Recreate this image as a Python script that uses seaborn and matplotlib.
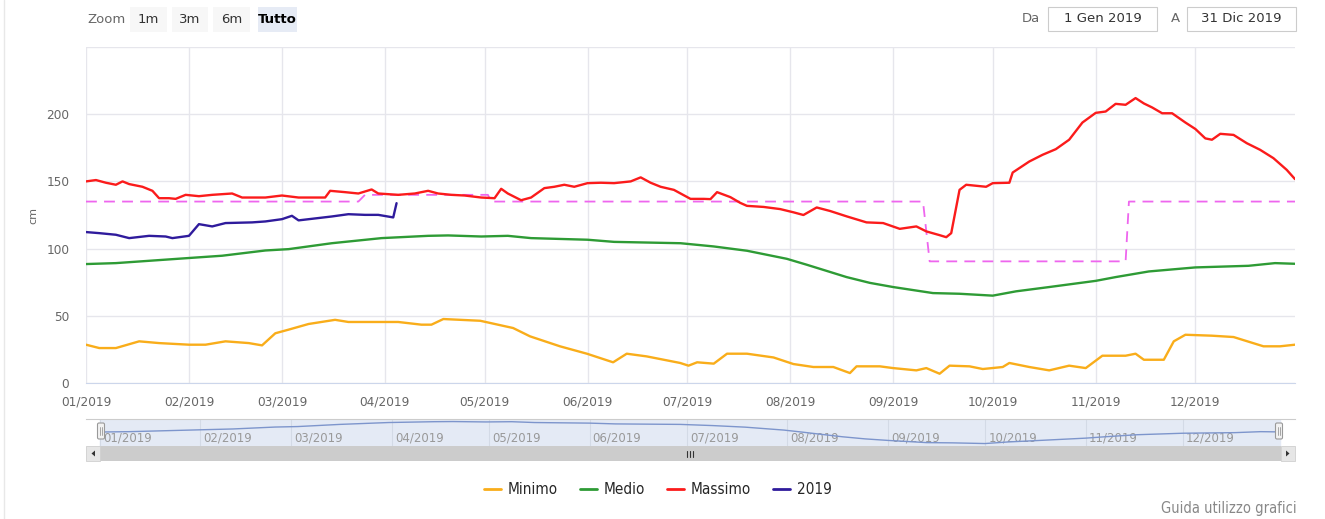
import pandas as pd
import numpy as np
import matplotlib.pyplot as plt
import matplotlib.dates as mdates
from matplotlib.patches import Rectangle, FancyBboxPatch, Polygon
from matplotlib.lines import Line2D
import seaborn as sns

W, H = 1325, 519
inizio = pd.Timestamp('2019-01-01')
fine = pd.Timestamp('2019-12-31')

# valori (giorno dell'anno, cm)
minimo_giorni = [0, 4, 9, 16, 22, 31, 36, 42, 49, 53, 57, 61, 67, 75, 79, 94, 101, 104, 107.6,
                 118.7, 128.6, 133.7, 142.7, 150.8, 158.7, 162.8, 168.8, 178.9, 181.4, 184, 189,
                 193, 199, 207, 213, 219, 225, 230, 232, 239, 243, 250, 253, 257, 260, 266, 270,
                 276, 278, 284, 290, 296, 301, 306, 313, 316, 318.5, 324.5, 327.5, 331, 339,
                 345.5, 354.5, 359.5, 364]
minimo_cm = [28.5, 26, 26, 31, 29.7, 28.5, 28.5, 31, 29.7, 28, 37, 39.7, 43.9, 47, 45.4, 45.4,
             43.4, 43.4, 47.6, 46.3, 40.9, 34.7, 27.3, 21.8, 15.4, 21.8, 19.8, 14.9, 12.9, 15.4,
             14.4, 21.8, 21.8, 19, 14.1, 11.9, 11.9, 7.4, 12.4, 12.4, 11.1, 9.4, 11.1, 6.9, 12.9,
             12.4, 10.4, 11.9, 14.9, 11.9, 9.4, 12.9, 11.1, 20.3, 20.3, 21.8, 17.3, 17.3, 31,
             35.9, 35.2, 34.2, 27.3, 27.3, 28.5]

medio_giorni = [0, 9, 31, 41, 54, 61, 74, 89, 103, 109, 119, 127, 134, 151, 159, 179, 189, 199,
                211, 217, 229, 236, 243, 255, 263, 273, 280, 290, 304, 310, 320, 334, 350, 358, 364]
medio_cm = [88.5, 89.2, 93, 94.7, 98.6, 99.6, 104, 107.8, 109.5, 109.8, 109, 109.5, 107.8, 106.6,
            105, 104, 101.6, 98.4, 92.4, 88, 78.8, 74.5, 71.4, 66.9, 66.4, 65, 68.2, 71.4, 76,
            78.8, 83, 86, 87.2, 89.2, 88.7]

massimo_giorni = [0, 3, 6, 9, 11, 13, 17, 20, 22, 25, 27, 30, 34, 38, 44, 47, 54, 59, 64, 72,
                  73.5, 78, 82, 86, 88, 94, 99, 103, 106, 110, 114, 119, 123, 125, 127, 131, 134,
                  138, 141, 144, 147, 151, 155, 159, 164, 167, 170, 173, 177, 182, 186, 188, 190,
                  194, 197, 199, 204, 209, 213, 216, 220, 224, 229, 235, 240, 245, 250, 253, 257,
                  259, 260.5, 263, 265, 271, 273, 278, 279, 284, 288, 292, 296, 300, 304, 307,
                  310, 313, 316, 318.5, 321, 324, 327, 331, 334, 337, 339, 341.5, 345.5, 349.5,
                  353.5, 357.5, 361.5, 364]
massimo_cm = [150, 151, 149, 147.5, 150, 148, 146, 143, 137.5, 137.5, 137, 140, 139, 140, 141,
              138, 138, 139.5, 138, 138, 143, 142, 141, 144, 141, 140, 141, 143, 141, 140, 139.5,
              138, 137.5, 144.5, 141, 136, 138, 145, 146, 147.5, 146, 148.7, 149, 148.7, 150,
              153, 149, 146, 143.7, 137, 137, 136.8, 142, 138.3, 134, 131.8, 131, 129.4, 127,
              125, 130.6, 128, 124, 119.5, 119, 114.7, 116.5, 112.8, 110, 108.5, 111.5, 143.7,
              147.5, 146, 148.7, 149, 156.6, 164.8, 169.8, 174, 181, 193.8, 201, 202, 207.7, 207,
              212, 208, 205, 200.7, 200.7, 193.8, 189, 182, 181, 185.4, 184.6, 178.4, 173.5,
              167.3, 158.6, 151.7]

anno2019_giorni = [0, 4, 9, 13, 19, 24, 26, 31, 34, 38, 42, 50, 54, 59, 62, 64, 74, 79, 84, 88,
                   92.5, 93.5]
anno2019_cm = [112.3, 111.5, 110.3, 107.8, 109.5, 109, 107.8, 109.5, 118.2, 116.5, 119, 119.5,
               120.2, 121.9, 124.4, 121, 123.9, 125.6, 125.1, 125.1, 123.2, 133.8]

soglia_giorni = [0, 82, 84, 121, 122, 252, 254, 313, 314, 364]
soglia_cm = [135, 135, 140, 140, 135, 135, 90.5, 90.5, 135, 135]

colori = {'Minimo': '#f9ad1a', 'Medio': '#2e9b35', 'Massimo': '#fb1b1b', '2019': '#2f1b9c'}


def serie(giorni, valori):
    return pd.DataFrame({'data': inizio + pd.to_timedelta(giorni, unit='D'), 'cm': valori})


sns.set_style('white')
plt.rcParams['font.family'] = ['DejaVu Sans']

fig = plt.figure(figsize=(W / 100, H / 100), dpi=100)


def box(x0, y0, x1, y1):
    return [x0 / W, 1 - y1 / H, (x1 - x0) / W, (y1 - y0) / H]


# grafico principale
ax = fig.add_axes(box(86, 47, 1295, 383))
sns.lineplot(data=serie(soglia_giorni, soglia_cm), x='data', y='cm', ax=ax, color='#ee66ee',
             lw=1.3, linestyle=(0, (6, 4)), zorder=2)
for nome, g, v in [('Minimo', minimo_giorni, minimo_cm), ('Medio', medio_giorni, medio_cm),
                   ('Massimo', massimo_giorni, massimo_cm), ('2019', anno2019_giorni, anno2019_cm)]:
    sns.lineplot(data=serie(g, v), x='data', y='cm', ax=ax, color=colori[nome], lw=1.7, zorder=3)

ax.set_xlim(inizio, fine)
ax.set_ylim(0, 250)
ax.set_yticks([0, 50, 100, 150, 200, 250])
ax.set_yticklabels(['0', '50', '100', '150', '200', ''])
mesi = pd.date_range('2019-01-01', '2019-12-01', freq='MS')
ax.set_xticks(mesi)
ax.xaxis.set_major_formatter(mdates.DateFormatter('%m/%Y'))
ax.grid(True, color='#e6e6ec', lw=1)
ax.tick_params(length=0, labelsize=8.7, labelcolor='#666666')
ax.tick_params(axis='y', pad=12)
ax.tick_params(axis='x', pad=9)
for s in ['top', 'right', 'left']:
    ax.spines[s].set_visible(False)
ax.spines['bottom'].set_color('#ccd6eb')
ax.set_xlabel('')
ax.set_ylabel('')
fig.text(33 / W, 1 - 215 / H, 'cm', rotation=90, color='#666666', fontsize=8,
         ha='center', va='center')

# navigatore
nav = fig.add_axes(box(86, 419, 1295, 446))
sns.lineplot(data=serie(medio_giorni, medio_cm), x='data', y='cm', ax=nav, color='#7d95cc',
             lw=1, zorder=3)
nav.set_xlim(inizio - pd.Timedelta(days=4.3), fine + pd.Timedelta(days=4.6))
nav.set_ylim(60, 115)
nav.axvspan(inizio, fine, color='#e4eaf5', zorder=0)
for m in mesi:
    nav.axvline(m, color='#d3dae6', lw=0.8, zorder=1)
    nav.text(m + pd.Timedelta(days=1), 0.3, m.strftime('%m/%Y'), transform=nav.get_xaxis_transform(),
             fontsize=8.5, color='#999999', ha='left', va='center', zorder=2)
nav.set_xticks([])
nav.set_yticks([])
nav.set_xlabel('')
nav.set_ylabel('')
for s in ['bottom', 'right', 'left']:
    nav.spines[s].set_visible(False)
nav.spines['top'].set_color('#cccccc')

# elementi dell'interfaccia in pixel
ui = fig.add_axes([0, 0, 1, 1], zorder=10)
ui.set_xlim(0, W)
ui.set_ylim(H, 0)
ui.axis('off')

# barra di scorrimento
ui.add_patch(Rectangle((86, 446), 1209, 15, fc='#f2f2f2', ec='none'))
ui.add_patch(Rectangle((100, 446), 1181, 15, fc='#cccccc', ec='none'))
ui.add_patch(Rectangle((86, 446), 14, 15, fc='#e6e6e6', ec='#d0d0d0', lw=0.6))
ui.add_patch(Rectangle((1281, 446), 14, 15, fc='#e6e6e6', ec='#d0d0d0', lw=0.6))
ui.add_patch(Polygon([[95, 450.5], [95, 456.5], [91.5, 453.5]], fc='#333333', ec='none'))
ui.add_patch(Polygon([[1286, 450.5], [1286, 456.5], [1289.5, 453.5]], fc='#333333', ec='none'))
for gx in [687, 690, 693]:
    ui.plot([gx, gx], [450.5, 456.5], color='#333333', lw=0.8)

# maniglie del navigatore
for hx in [101, 1279]:
    ui.add_patch(FancyBboxPatch((hx - 3.5, 423), 7, 16, boxstyle='round,pad=0,rounding_size=1.5',
                                fc='#f2f2f2', ec='#999999', lw=0.8))
    ui.plot([hx - 1, hx - 1], [427, 435], color='#999999', lw=0.6)
    ui.plot([hx + 1, hx + 1], [427, 435], color='#999999', lw=0.6)

# pulsanti di zoom
ui.text(87, 19.5, 'Zoom', fontsize=9.5, color='#666666', ha='left', va='center')
for etichetta, x0, x1, attivo in [('1m', 130, 167, False), ('3m', 172, 208, False),
                                   ('6m', 213, 250, False), ('Tutto', 258, 297, True)]:
    ui.add_patch(Rectangle((x0, 7), x1 - x0, 25, fc='#e6ebf5' if attivo else '#f7f7f7', ec='none'))
    ui.text((x0 + x1) / 2, 19.5, etichetta, fontsize=9.5, ha='center', va='center',
            color='#000000' if attivo else '#333333', fontweight='bold' if attivo else 'normal')

# intervallo date
ui.text(1031, 19, 'Da', fontsize=9.5, color='#666666', ha='center', va='center')
ui.text(1175, 19, 'A', fontsize=9.5, color='#666666', ha='center', va='center')
for testo, x0, x1 in [('1 Gen 2019', 1048, 1157), ('31 Dic 2019', 1187, 1296)]:
    ui.add_patch(Rectangle((x0, 7), x1 - x0, 24, fc='white', ec='#cccccc', lw=0.8))
    ui.text((x0 + x1) / 2, 19, testo, fontsize=9.5, color='#333333', ha='center', va='center')

ui.plot([4, 4], [0, H], color='#e8e8e8', lw=1)
ui.text(1297, 509, 'Guida utilizzo grafici', fontsize=10.5, color='#888888', ha='right', va='center',
        fontstretch='condensed')

# legenda
maniglie = [Line2D([0], [0], color=colori[n], lw=2) for n in ['Minimo', 'Medio', 'Massimo', '2019']]
fig.legend(maniglie, ['Minimo', 'Medio', 'Massimo', '2019'], loc='center',
           bbox_to_anchor=(658 / W, 1 - 490 / H), ncol=4, frameon=False, handlelength=1.1,
           handletextpad=0.45, columnspacing=1.45,
           prop={'family': 'DejaVu Sans', 'stretch': 'condensed', 'size': 11})

fig.savefig('out.png', dpi=100)
